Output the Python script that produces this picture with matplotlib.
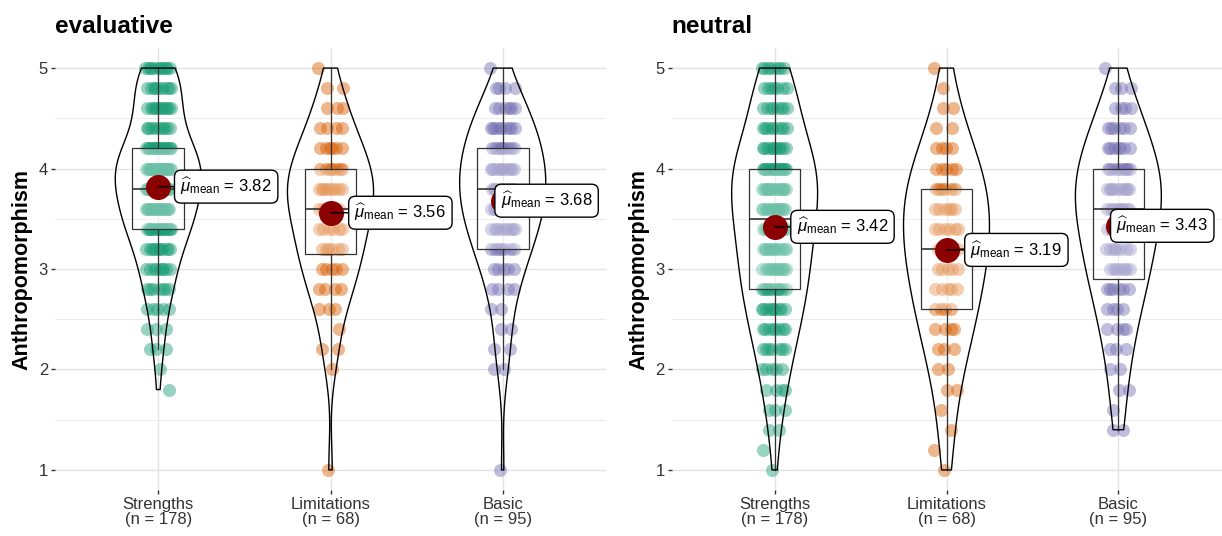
import numpy as np
import matplotlib
matplotlib.use("Agg")
import matplotlib.pyplot as plt

plt.rcParams['font.family'] = ['Liberation Sans', 'DejaVu Sans']
plt.rcParams['mathtext.fontset'] = 'custom'
plt.rcParams['mathtext.rm'] = 'Liberation Sans'
plt.rcParams['mathtext.it'] = 'Liberation Sans:italic'
plt.rcParams['mathtext.bf'] = 'Liberation Sans:bold'

groups = ['Strengths', 'Limitations', 'Basic']
colors = ['#1B9E77', '#D95F02', '#7570B3']

# score levels (mean of 5 items) and how many respondents sit on each level
levels = [5.0, 4.8, 4.6, 4.4, 4.2, 4.0, 3.8, 3.6, 3.4, 3.2, 3.0,
          2.8, 2.6, 2.4, 2.2, 2.0, 1.8, 1.6, 1.4, 1.2, 1.0]

eval_strengths = [12, 10, 12, 10, 18, 22, 20, 18, 16, 11, 9, 7, 5, 3, 3, 1, 1, 0, 0, 0, 0]
eval_limitations = [1, 2, 3, 4, 6, 7, 9, 7, 6, 6, 5, 4, 3, 1, 2, 1, 0, 0, 0, 0, 1]
eval_basic = [1, 4, 6, 9, 9, 11, 11, 10, 9, 7, 5, 4, 2, 2, 2, 2, 0, 0, 0, 0, 1]

neut_strengths = [8, 7, 8, 9, 11, 17, 15, 14, 13, 12, 12, 11, 10, 8, 7, 5, 4, 3, 2, 1, 1]
neut_limitations = [1, 1, 2, 2, 4, 5, 6, 6, 6, 6, 5, 5, 4, 4, 3, 2, 2, 1, 1, 1, 1]
neut_basic = [1, 3, 4, 6, 7, 9, 10, 9, 8, 7, 7, 6, 4, 4, 3, 2, 2, 1, 2, 0, 0]

eval_means = [3.82, 3.56, 3.68]
neut_means = [3.42, 3.19, 3.43]

# horizontal offset of each mean label (pixels from the point)
label_dx = [22, 24, -2]
jitter = 0.075


def draw_panel(ax, title, counts, means):
    data = [np.repeat(levels, c) for c in counts]
    pos = np.arange(1, len(groups) + 1)

    # raw observations, spread sideways within each level
    for p, col, c in zip(pos, colors, counts):
        xs, ys = [], []
        for r, (lv, k) in enumerate(zip(levels, c)):
            for i in range(k):
                xs.append(p + jitter * (2 * ((i * 0.618034 + r * 0.37) % 1) - 1))
                ys.append(lv)
        ax.scatter(xs, ys, s=88, color=col, alpha=0.45, linewidths=0, zorder=2)

    ax.boxplot(data, positions=pos, widths=0.3, showfliers=False, showcaps=False,
               patch_artist=True, zorder=3,
               boxprops=dict(facecolor=(1, 1, 1, 0.35), edgecolor='#333333', linewidth=0.9),
               whiskerprops=dict(color='#333333', linewidth=0.9),
               medianprops=dict(color='#333333', linewidth=1.2))

    for p, d in zip(pos, data):
        sd = d.std(ddof=1)
        q1, q3 = np.percentile(d, [25, 75])
        bw = 1.15 * 0.9 * min(sd, (q3 - q1) / 1.34) * len(d) ** -0.2
        vp = ax.violinplot([d], positions=[p], widths=0.5, showextrema=False,
                           bw_method=bw / sd, points=200)
        for b in vp['bodies']:
            b.set_alpha(1)
            b.set_facecolor('none')
            b.set_edgecolor('black')
            b.set_linewidth(1.0)
            b.set_zorder(4)

    for p, m, dx in zip(pos, means, label_dx):
        ax.plot(p, m, 'o', ms=17, color='#8B0000', zorder=5)
        ax.annotate(rf'$\widehat{{\mu}}_{{\mathrm{{mean}}}}$ = {m:.2f}', xy=(p, m),
                    xytext=(dx, 0), textcoords='offset pixels', ha='left', va='center',
                    fontsize=12, zorder=6,
                    bbox=dict(boxstyle='round,pad=0.35,rounding_size=0.4', fc='white',
                              ec='black', lw=1),
                    arrowprops=dict(arrowstyle='-', color='black', lw=1,
                                    shrinkA=0, shrinkB=0))

    ax.set_xlim(0.4, 3.6)
    ax.set_ylim(0.8, 5.2)
    ax.set_xticks(pos, [f'{g}\n(n = {len(d)})' for g, d in zip(groups, data)])
    for t in ax.get_xticklabels():
        t.set_linespacing(1.0)
    ax.set_yticks([1, 2, 3, 4, 5])
    ax.set_yticks([1.5, 2.5, 3.5, 4.5], minor=True)
    ax.grid(which='major', color='#E3E3E3', lw=1.0)
    ax.grid(which='minor', axis='y', color='#EBEBEB', lw=0.7)
    ax.set_axisbelow(True)
    ax.tick_params(which='minor', length=0)
    ax.tick_params(which='major', length=3, width=1, color='#333333',
                   labelcolor='#333333', labelsize=12, pad=2)
    for s in ax.spines.values():
        s.set_visible(False)

    ax.set_title(title, loc='left', fontsize=17.5, fontweight='bold', pad=11)
    ax.set_ylabel('Anthropomorphism', fontsize=15.5, fontweight='bold')
    ax.yaxis.set_label_coords(-0.04, 0.5)


fig = plt.figure(figsize=(12.22, 5.36), dpi=100)
ax1 = fig.add_axes([55 / 1222, 46 / 536, 551 / 1222, 442 / 536])
ax2 = fig.add_axes([671.5 / 1222, 46 / 536, 550 / 1222, 442 / 536])

draw_panel(ax1, 'evaluative', [eval_strengths, eval_limitations, eval_basic], eval_means)
draw_panel(ax2, 'neutral', [neut_strengths, neut_limitations, neut_basic], neut_means)

fig.savefig('out.png', dpi=100)
